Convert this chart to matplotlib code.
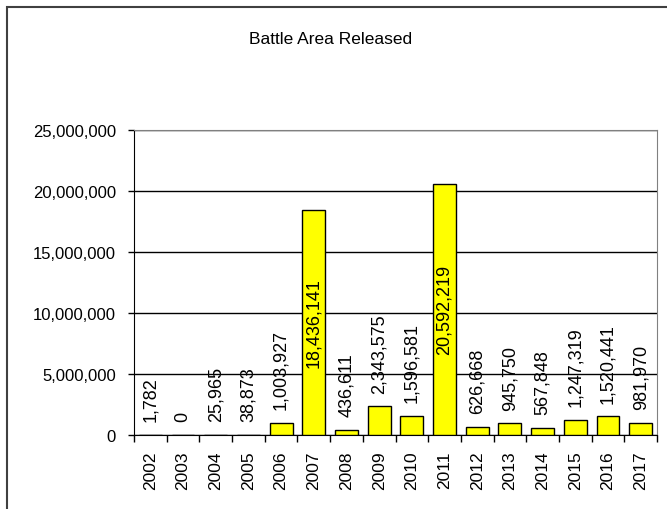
import numpy as np
import matplotlib
matplotlib.use("Agg")
import matplotlib.pyplot as plt
from matplotlib.patches import Rectangle
from matplotlib.ticker import FuncFormatter

plt.rcParams['font.family'] = ['Liberation Sans', 'DejaVu Sans']

years = [str(y) for y in range(2002, 2018)]
area = [1782, 0, 25965, 38873, 1003927, 18436141, 436611, 2343575,
        1596581, 20592219, 626668, 945750, 567848, 1247319, 1520441, 981970]

fig = plt.figure(figsize=(6.67, 5.1), dpi=100)
ax = fig.add_axes([134 / 667, 1 - 436 / 510, 523 / 667, 305 / 510])

x = np.arange(len(years))
ax.bar(x, area, width=0.7, color='#FFFF00', edgecolor='black', linewidth=1, zorder=3)

ax.set_xlim(-0.5, len(years) - 0.5)
ax.set_ylim(0, 25000000)
ax.set_yticks(np.arange(0, 25000001, 5000000))
ax.yaxis.set_major_formatter(FuncFormatter(lambda v, p: f"{int(v):,}"))
ax.grid(axis='y', color='black', linewidth=1, zorder=0)

ax.set_xticks(x)
ax.set_xticklabels(years, rotation=90)
ax.set_xticks(np.arange(-0.5, len(years)), minor=True)
ax.tick_params(axis='x', which='major', length=0, pad=11, labelsize=12.5)
ax.tick_params(axis='x', which='minor', length=5, width=1, direction='out')
ax.tick_params(axis='y', length=4, width=1, pad=9, labelsize=12)

for s in ['left', 'bottom']:
    ax.spines[s].set_color('black')
for s in ['top', 'right']:
    ax.spines[s].set_color('#808080')

# labels: above the bar, or centred inside when too tall to fit
for xi, v in zip(x, area):
    if v > 15000000:
        ax.text(xi, v / 2, f"{v:,}", rotation=90, ha='center', va='center',
                fontsize=13, zorder=4)
    else:
        ax.annotate(f"{v:,}", (xi, v), xytext=(0, 10), textcoords='offset points',
                    rotation=90, ha='center', va='bottom', fontsize=13, zorder=4)

fig.text(331 / 667, 1 - 40 / 510, "Battle Area Released", ha='center', va='center',
         fontsize=12.5)

fig.patches.append(Rectangle((7 / 667, -0.2), 1.2, 1.2 - 8 / 510,
                             transform=fig.transFigure, fill=False,
                             edgecolor='#404040', linewidth=1.5))

fig.savefig("out.png", dpi=100)
